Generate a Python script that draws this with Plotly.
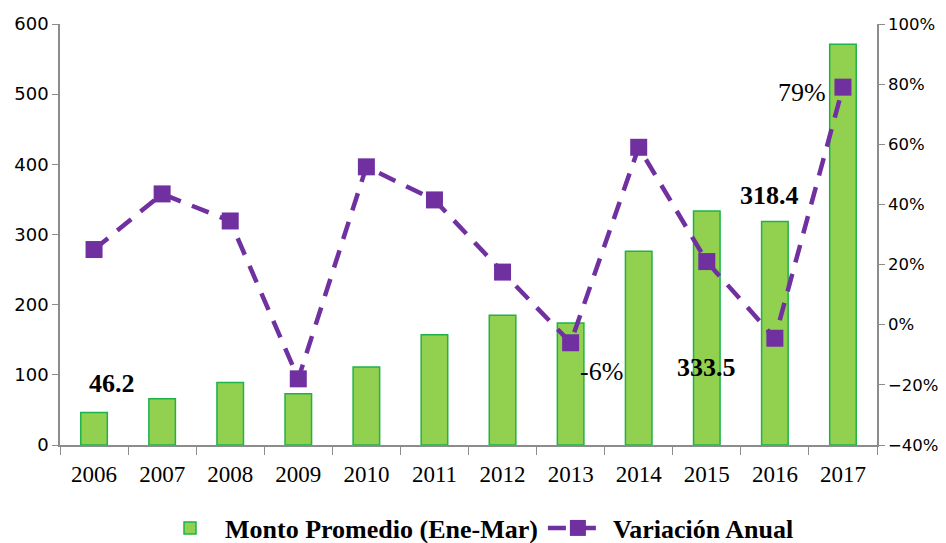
import plotly.graph_objects as go

years = [2006, 2007, 2008, 2009, 2010, 2011, 2012, 2013, 2014, 2015, 2016, 2017]
year_labels = ["2006", "2007", "2008", "2009", "2010", "2011", "2012", "2013", "2014", "2015", "2016", "2017"]
monto = [46.2, 66, 89, 73, 111, 157, 185, 174, 276, 333.5, 318.4, 571.3]
variacion = [0.25, 0.435, 0.345, -0.18, 0.525, 0.415, 0.175, -0.06, 0.59, 0.21, -0.045, 0.79]

bar_name = "<b>Monto Promedio (Ene-Mar)</b>"
line_name = "<b>Variación Anual</b>"

serif = "Liberation Serif, Times New Roman, serif"
sans = "DejaVu Sans, Verdana, sans-serif"

fig = go.Figure()
fig.add_trace(go.Bar(
    x=years, y=monto, name=bar_name, width=0.39,
    marker=dict(color="#92D050", line=dict(color="#1FB24A", width=1.5)),
    yaxis="y",
))
fig.add_trace(go.Scatter(
    x=years, y=variacion, name=line_name, mode="lines+markers",
    line=dict(color="#7030A0", width=4.5, dash="18px,12px"),
    marker=dict(symbol="square", size=17, color="#7030A0"),
    yaxis="y2",
))

annots = [
    (2006, 88, "<b>46.2</b>", 18),
    (2015, 111, "<b>333.5</b>", 0),
    (2016, 356, "<b>318.4</b>", -5),
    (2017, 613, "<b>571.3</b>", -5),
]
for x, y, t, xs in annots:
    fig.add_annotation(x=x, y=y, text=t, xref="x", yref="y",
                       showarrow=False, xshift=xs,
                       font=dict(family=serif, size=26, color="#000000"))
fig.add_annotation(x=2017, y=0.79, text="79%", xref="x", yref="y2", showarrow=False,
                   xshift=-41, yshift=-5, font=dict(family=serif, size=26, color="#000000"))
fig.add_annotation(x=2013, y=-0.06, text="-6%", xref="x", yref="y2", showarrow=False,
                   xshift=31, yshift=-29, font=dict(family=serif, size=26, color="#000000"))

fig.update_layout(
    width=938, height=535,
    margin=dict(l=52, r=69, t=16, b=98),
    paper_bgcolor="white", plot_bgcolor="white",
    showlegend=True,
    legend=dict(orientation="h", x=0.5, xanchor="center", xref="container",
                y=0.028, yanchor="middle", yref="container",
                font=dict(family=serif, size=26, color="#000000"),
                itemwidth=60, traceorder="normal"),
    xaxis=dict(
        range=[2005.5, 2017.5], tickvals=years, ticktext=year_labels,
        showline=True, linecolor="#8c8c8c", linewidth=1.5,
        ticks="", showgrid=False, zeroline=False, automargin=False,
        minor=dict(ticks="outside", tick0=2005.5, dtick=1, ticklen=8, tickcolor="#8c8c8c", showgrid=False),
        tickfont=dict(family=serif, size=23, color="#000000"),
        ticklabelstandoff=8,
    ),
    yaxis=dict(
        range=[0, 600], dtick=100, showline=True, linecolor="#8c8c8c", linewidth=1.5,
        ticks="outside", ticklen=6, tickcolor="#8c8c8c", showgrid=False, zeroline=False,
        automargin=False,
        tickfont=dict(family=sans, size=18, color="#000000"),
    ),
    yaxis2=dict(
        range=[-0.4, 1.0], dtick=0.2, tickformat=".0%", overlaying="y", side="right",
        showline=True, linecolor="#8c8c8c", linewidth=1.5, automargin=False,
        ticks="outside", ticklen=6, tickcolor="#8c8c8c", showgrid=False, zeroline=False,
        tickfont=dict(family=sans, size=16.5, color="#000000"),
    ),
)
fig.write_html("out.html")
